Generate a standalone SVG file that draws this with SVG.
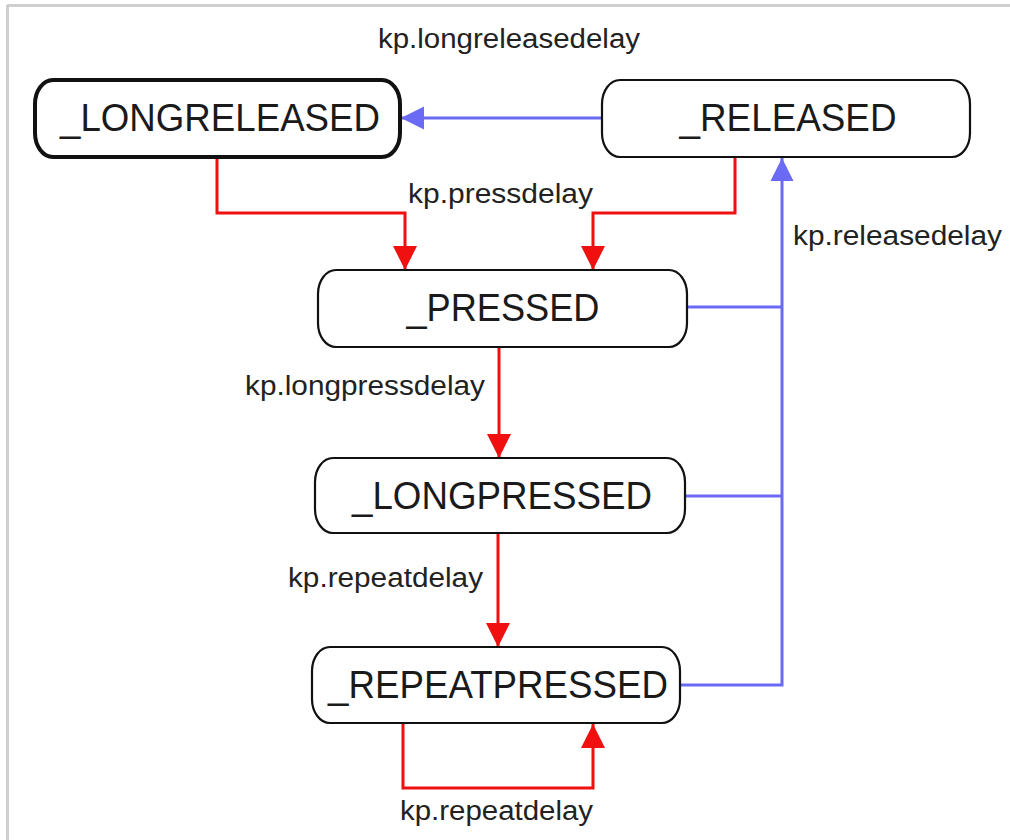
<svg xmlns="http://www.w3.org/2000/svg" width="1010" height="840" viewBox="0 0 1010 840">
  <style>
    .node rect { fill: #ffffff; stroke: #111111; stroke-width: 2.2; }
    .node text { font-family: "Liberation Sans", Arial, sans-serif; font-size: 38px; fill: #1a1a1a; text-anchor: middle; }
    .red { fill: none; stroke: #f01010; stroke-width: 3; }
    .blue { fill: none; stroke: #6a6af5; stroke-width: 3; }
    .lbl { font-family: "Liberation Sans", Arial, sans-serif; font-size: 27px; fill: #222222; }
  </style>
  <defs>
    <marker id="arrRed" viewBox="0 0 24 24" refX="24" refY="12" markerWidth="24" markerHeight="25" markerUnits="userSpaceOnUse" orient="auto">
      <path d="M0,0 L24,12 L0,24 z" fill="#f01010"/>
    </marker>
    <marker id="arrBlue" viewBox="0 0 24 24" refX="24" refY="12" markerWidth="23" markerHeight="24" markerUnits="userSpaceOnUse" orient="auto">
      <path d="M0,0 L24,12 L0,24 z" fill="#6a6af5"/>
    </marker>
  </defs>
  <rect x="0" y="0" width="1010" height="840" fill="#ffffff"/>
  <line x1="7" y1="5.5" x2="1010" y2="5.5" stroke="#cfcfcf" stroke-width="3"/>
  <line x1="7.5" y1="5" x2="7.5" y2="840" stroke="#cfcfcf" stroke-width="3"/>

  <g id="connectors">
    <path class="blue" d="M602,118 L401,118" marker-end="url(#arrBlue)"/>
    <path class="red" d="M217,157 L217,213 L405,213 L405,270" marker-end="url(#arrRed)"/>
    <path class="red" d="M735,157 L735,213 L593,213 L593,270" marker-end="url(#arrRed)"/>
    <path class="blue" d="M687,307 L782,307"/>
    <path class="blue" d="M685,496 L782,496"/>
    <path class="blue" d="M680,685 L782,685 L782,158" marker-end="url(#arrBlue)"/>
    <path class="red" d="M499,347 L499,458" marker-end="url(#arrRed)"/>
    <path class="red" d="M498,533 L498,647" marker-end="url(#arrRed)"/>
    <path class="red" d="M403,723 L403,788 L593,788 L593,724" marker-end="url(#arrRed)"/>
    <text class="lbl" x="378" y="48" textLength="262" lengthAdjust="spacingAndGlyphs">kp.longreleasedelay</text>
    <text class="lbl" x="408" y="203" textLength="185" lengthAdjust="spacingAndGlyphs">kp.pressdelay</text>
    <text class="lbl" x="793" y="245" textLength="209" lengthAdjust="spacingAndGlyphs">kp.releasedelay</text>
    <text class="lbl" x="245" y="395" textLength="240" lengthAdjust="spacingAndGlyphs">kp.longpressdelay</text>
    <text class="lbl" x="288" y="587" textLength="195" lengthAdjust="spacingAndGlyphs">kp.repeatdelay</text>
    <text class="lbl" x="400" y="820" textLength="193" lengthAdjust="spacingAndGlyphs">kp.repeatdelay</text>
  </g>

  <g id="node-longreleased" class="node">
    <rect x="35" y="80" width="365" height="77" rx="18" ry="24" style="stroke-width:4"/>
    <text x="220" y="131" textLength="320" lengthAdjust="spacingAndGlyphs">_LONGRELEASED</text>
  </g>
  <g id="node-released" class="node">
    <rect x="602" y="80" width="368" height="77" rx="18" ry="24"/>
    <text x="788" y="131" textLength="217" lengthAdjust="spacingAndGlyphs">_RELEASED</text>
  </g>
  <g id="node-pressed" class="node">
    <rect x="318" y="270" width="369" height="77" rx="18" ry="24"/>
    <text x="503" y="321" textLength="193" lengthAdjust="spacingAndGlyphs">_PRESSED</text>
  </g>
  <g id="node-longpressed" class="node">
    <rect x="315" y="458" width="370" height="75" rx="18" ry="24"/>
    <text x="502" y="509" textLength="300" lengthAdjust="spacingAndGlyphs">_LONGPRESSED</text>
  </g>
  <g id="node-repeatpressed" class="node">
    <rect x="312" y="647" width="368" height="76" rx="18" ry="24"/>
    <text x="498" y="698" textLength="340" lengthAdjust="spacingAndGlyphs">_REPEATPRESSED</text>
  </g>
</svg>
